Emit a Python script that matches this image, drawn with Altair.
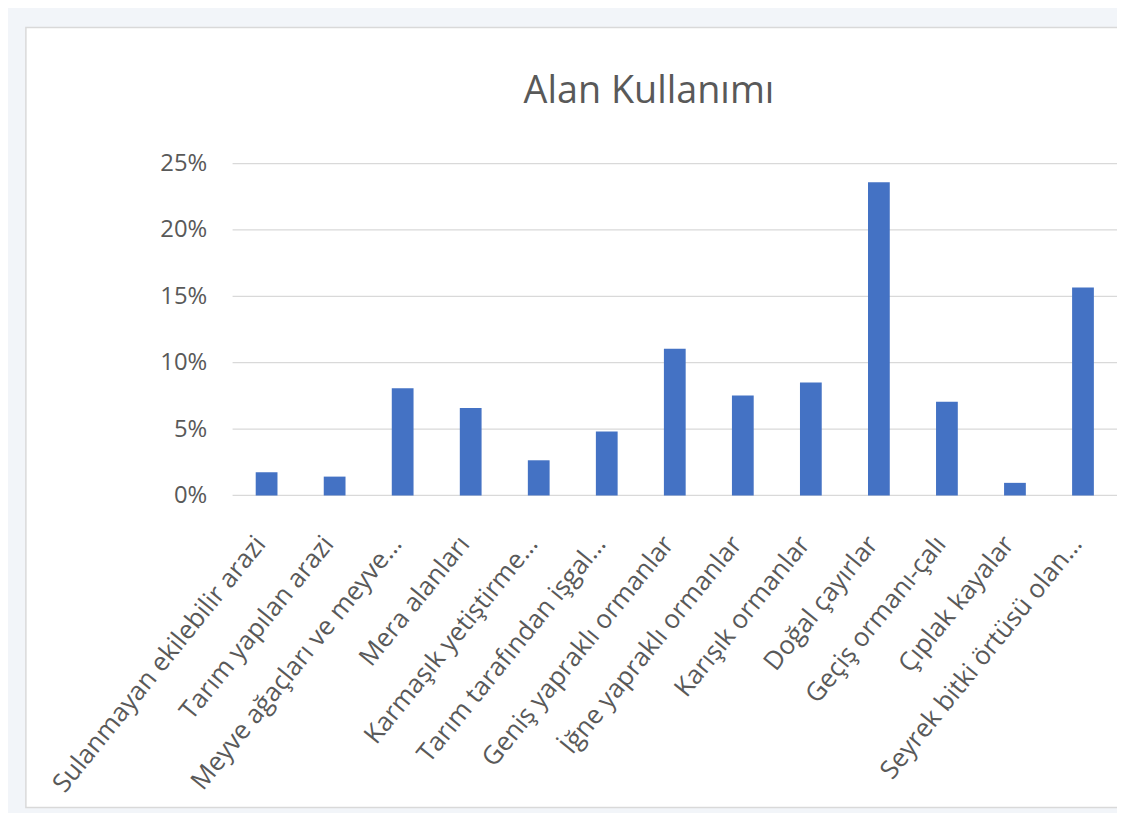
import altair as alt
import pandas as pd

categories = [
    "Sulanmayan ekilebilir arazi",
    "Tarım yapılan arazi",
    "Meyve ağaçları ve meyve…",
    "Mera alanları",
    "Karmaşık yetiştirme…",
    "Tarım tarafından işgal…",
    "Geniş yapraklı ormanlar",
    "İğne yapraklı ormanlar",
    "Karışık ormanlar",
    "Doğal çayırlar",
    "Geçiş ormanı-çalı",
    "Çıplak kayalar",
    "Seyrek bitki örtüsü olan…",
]
values = [0.0175, 0.0142, 0.0808, 0.0658, 0.0265, 0.0482, 0.1105, 0.0753,
          0.0850, 0.2360, 0.0706, 0.0095, 0.1566]
tick_values = [0, 0.05, 0.10, 0.15, 0.20, 0.25]

FONT = "Open Sans"
TXT = "#595959"
W, H = 890, 334

df = pd.DataFrame({"cat": categories, "val": values})
grid_df = pd.DataFrame({"v": tick_values})
panel_df = pd.DataFrame({"p": [0]})

yscale = alt.Scale(domain=[0, 0.25], nice=False, zero=True)
yaxis = alt.Axis(
    title=None, values=tick_values, format=".0%", grid=False, domain=False,
    ticks=False, labelFont=FONT, labelFontSize=24, labelColor=TXT,
    labelPadding=26, zindex=2,
)

panel = alt.Chart(panel_df).mark_rect(
    fill="white", stroke="#d9d9d9", strokeWidth=1.5
).encode(
    x=alt.value(-208), x2=alt.value(W + 20),
    y=alt.value(-137), y2=alt.value(648),
)

grid = alt.Chart(grid_df).mark_rule(color="#d9d9d9", strokeWidth=1.2).encode(
    y=alt.Y("v:Q", scale=yscale, axis=yaxis),
    x=alt.value(0), x2=alt.value(W),
)

bars = alt.Chart(df).mark_bar(color="#4472C4").encode(
    x=alt.X(
        "cat:N", sort=categories,
        scale=alt.Scale(paddingInner=0.68, paddingOuter=0.34),
        axis=alt.Axis(
            title=None, labelAngle=-51, labelAlign="right", labelBaseline="middle",
            labelFont=FONT, labelFontSize=26, labelColor=TXT, labelPadding=44,
            labelOffset=-6,
            labelLimit=0, domain=False, ticks=False, grid=False, zindex=2,
        ),
    ),
    y=alt.Y("val:Q", scale=yscale, axis=yaxis),
)

chart = alt.layer(panel, grid, bars).properties(
    width=W, height=H,
    padding={"left": 226, "top": 154, "right": 0, "bottom": 317},
    autosize=alt.AutoSizeParams(type="none"),
    background="#f2f5f9",
    title=alt.TitleParams(
        "Alan Kullanımı", font=FONT, fontSize=38, fontWeight="normal",
        color=TXT, anchor="middle", dx=-26, offset=-85, zindex=2,
    ),
).configure_view(stroke=None)

chart.save("out.html", embed_options={"renderer": "svg", "actions": False})
